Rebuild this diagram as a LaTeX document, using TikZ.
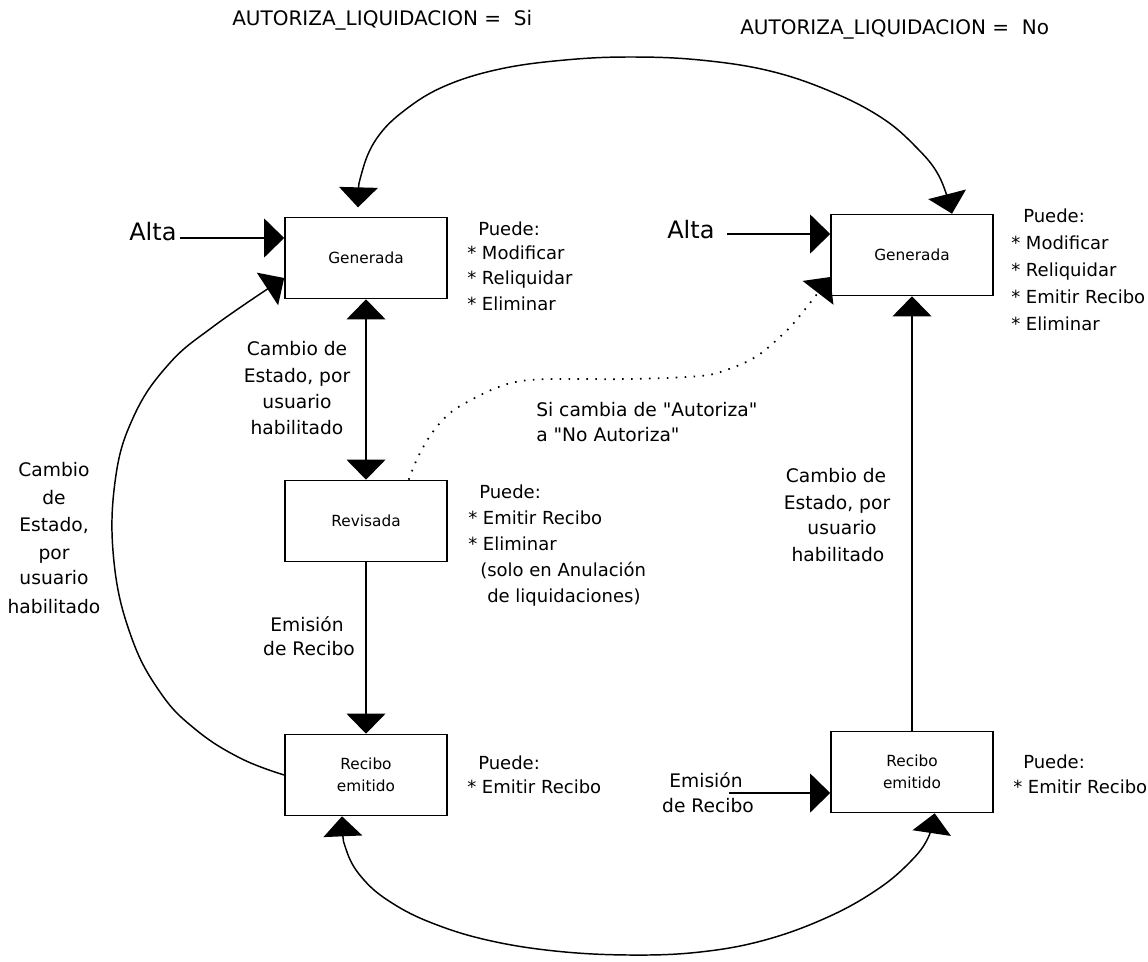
\documentclass[tikz,border=0pt]{standalone}
\usepackage{fontspec}
\setmainfont{DejaVu Sans}
\usetikzlibrary{arrows.meta}
\begin{document}
\begin{tikzpicture}[x=0.75pt,y=-0.75pt,
  box/.style={draw, line width=1.2pt, minimum width=121.5pt, minimum height=60.75pt, inner sep=0pt, align=center, font=\fontsize{11.5}{16.5}\selectfont},
  txt/.style={inner sep=0pt, text height=9.8pt, text depth=0pt, anchor=west, font=\fontsize{13.5}{16}\selectfont},
  txtb/.style={inner sep=0pt, text height=10.2pt, text depth=0pt, anchor=west, font=\fontsize{14}{16}\selectfont},
  ttl/.style={inner sep=0pt, text height=10.9pt, text depth=0pt, anchor=west, font=\fontsize{15}{17}\selectfont},
  ctxt/.style={txtb, anchor=center},
  alta/.style={inner sep=0pt, text height=13.1pt, text depth=0pt, anchor=west, font=\fontsize{18}{20}\selectfont},
  tip/.tip={Triangle[length=15pt,width=29pt]},
  arr/.style={line width=1.2pt, -tip},
  darr/.style={line width=1.2pt, tip-tip},
  crv/.style={line width=1.1pt},
  dots/.style={line width=1.3pt, dash pattern=on 1.2pt off 5.5pt},
]
\fill[white] (0,0) rectangle (1148,961);
\useasboundingbox (0,0) rectangle (1148,961);

% titles
\node[ttl] (t1) at (232,18) {AUTORIZA\_LIQUIDACION = \ Si};
\node[ttl] (t2) at (740,27) {AUTORIZA\_LIQUIDACION = \ No};

% boxes
\node[box] (gen1) at (366,258) {Generada};
\node[box] (rev) at (366,521) {Revisada};
\node[box] (rec1) at (366,775) {Recibo\\emitido};
\node[box] (gen2) at (912,255) {Generada};
\node[box] (rec2) at (912,772) {Recibo\\emitido};

% Alta arrows
\node[alta] (alta1) at (129,232) {Alta};
\node[alta] (alta2) at (667,230) {Alta};
\coordinate (a1s) at (180,238);
\coordinate (a2s) at (727,234);
\draw[arr] (a1s) -- ([yshift=15pt]gen1.west);
\draw[arr] (a2s) -- ([yshift=15.75pt]gen2.west);

% Emision 2
\node[ctxt] (em2a) at (706,781) {Emisión};
\node[ctxt] (em2b) at (708,806) {de Recibo};
\coordinate (e2s) at (729,793);
\draw[arr] (e2s) -- ([yshift=-15.75pt]rec2.west);

% straight connectors
\draw[darr] (gen1.south) -- (rev.north);
\draw[arr] (rev.south) -- (rec1.north);
\draw[arr] (rec2.north) -- (gen2.south);

% top arc
\coordinate (tl) at ([xshift=-6pt,yshift=7pt]gen1.north);
\coordinate (tr) at ([xshift=30pt]gen2.north);
\draw[darr, crv] plot[smooth, tension=0.65] coordinates {(tl) (362,172) (377,138) (405,110) (445,86) (500,69) (565,60) (630,57) (700,60) (770,71) (832,92) (882,118) (916,147) (939,176) (tr)};

% bottom arc
\coordinate (bl) at ([xshift=-18pt]rec1.south);
\coordinate (br) at ([xshift=17pt]rec2.south);
\draw[darr, crv] plot[smooth, tension=0.65] coordinates {(bl) (347,852) (364,880) (392,903) (432,923) (487,940) (555,951) (630,955) (700,952) (765,940) (828,917) (878,889) (911,861) (928,838) (br)};

% left arc
\coordinate (lt) at ([yshift=-15pt]gen1.west);
\draw[arr, crv] plot[smooth, tension=0.7] coordinates {(rec1.west) (240,758) (195,729) (160,692) (131,636) (114,562) (115,482) (133,418) (168,365) (214,326) (lt)};

% dotted
\coordinate (ds) at ([xshift=32pt]rev.north);
\coordinate (de) at ([yshift=-16.5pt]gen2.west);
\draw[dots, -tip] plot[smooth, tension=0.6] coordinates {(ds) (418,457) (432,433) (450,413) (471,400) (496,388) (521,381) (557,379) (629,379) (700,376) (729,369) (757,356) (782,335) (798,318) (de)};

% labels
\node[ctxt] (m1) at (297,349) {Cambio de};
\node[ctxt] (m2) at (297,376) {Estado, por};
\node[ctxt] (m3) at (297,402) {usuario};
\node[ctxt] (m4) at (297,428) {habilitado};

\node[ctxt] (e1) at (307,625) {Emisión};
\node[ctxt] (e2) at (309,649) {de Recibo};

\node[ctxt] (l1) at (54,470) {Cambio};
\node[ctxt] (l2) at (54,498) {de};
\node[ctxt] (l3) at (54,525) {Estado,};
\node[ctxt] (l4) at (54,553) {por};
\node[ctxt] (l5) at (54,578) {usuario};
\node[ctxt] (l6) at (54,607) {habilitado};

\node[ctxt] (r1) at (836,476) {Cambio de};
\node[ctxt] (r2) at (837,503) {Estado, por};
\node[ctxt] (r3) at (842,528) {usuario};
\node[ctxt] (r4) at (838,555) {habilitado};

\node[txtb] (s1) at (536,410) {Si cambia de \textquotedbl Autoriza\textquotedbl};
\node[txtb] (s2) at (536,435) {a \textquotedbl No Autoriza\textquotedbl};

% Puede blocks
\node[txt] (p1a) at (478,229) {Puede:};
\node[txt] (p1b) at (467,253) {* Modificar};
\node[txt] (p1c) at (467,278) {* Reliquidar};
\node[txt] (p1d) at (467,304) {* Eliminar};

\node[txt] (p2a) at (1023,216) {Puede:};
\node[txt] (p2b) at (1011,243) {* Modificar};
\node[txt] (p2c) at (1011,270) {* Reliquidar};
\node[txt] (p2d) at (1011,297) {* Emitir Recibo};
\node[txt] (p2e) at (1011,324) {* Eliminar};

\node[txt] (p3a) at (479,492) {Puede:};
\node[txt] (p3b) at (468,518) {* Emitir Recibo};
\node[txt] (p3c) at (468,544) {* Eliminar};
\node[txt] (p3d) at (480,570) {(solo en Anulación};
\node[txt] (p3e) at (487,596) {de liquidaciones)};

\node[txt] (p4a) at (478,763) {Puede:};
\node[txt] (p4b) at (467,787) {* Emitir Recibo};

\node[txt] (p5a) at (1023,762) {Puede:};
\node[txt] (p5b) at (1013,787) {* Emitir Recibo};
\end{tikzpicture}
\end{document}
